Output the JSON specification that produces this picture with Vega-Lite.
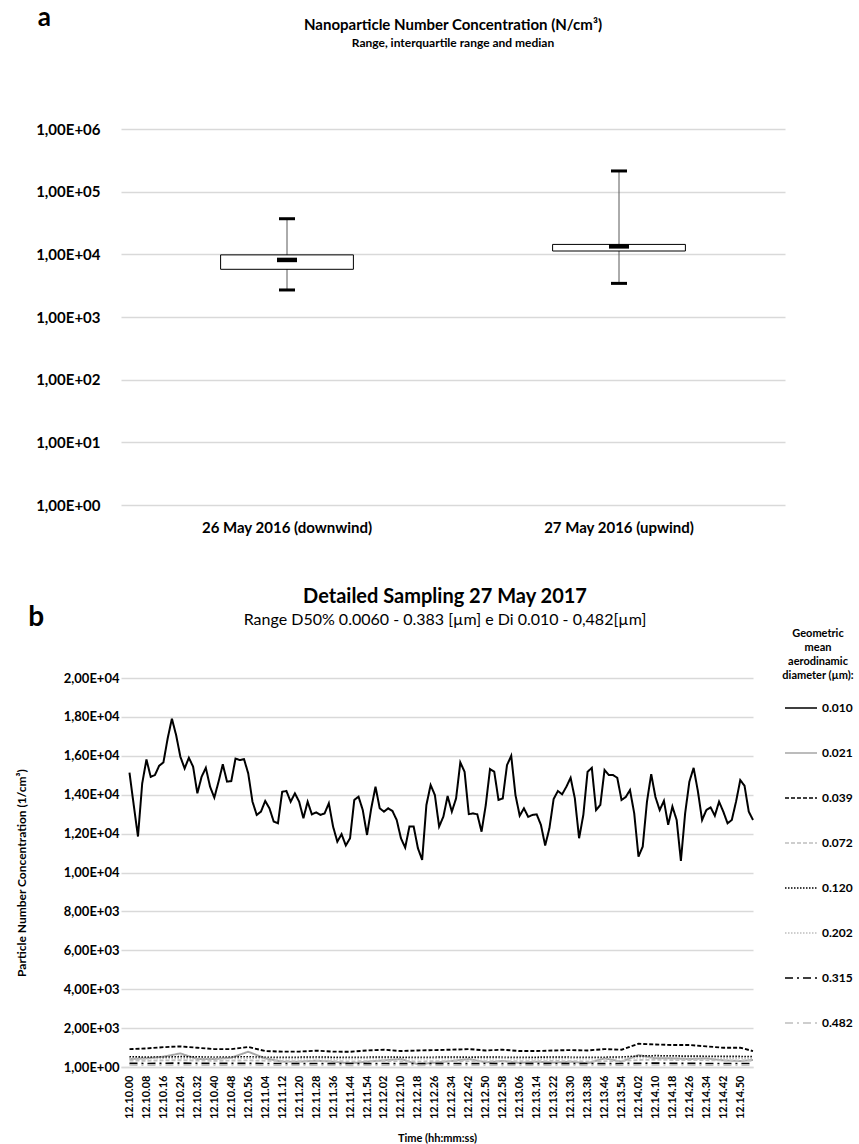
{
  "$schema": "https://vega.github.io/schema/vega-lite/v6.json",
  "padding": {"left": 15, "top": 5, "right": 5, "bottom": 2},
  "background": "white",
  "config": {
    "font": "Lato",
    "view": {"stroke": null},
    "axis": {"gridColor": "#d9d9d9", "gridWidth": 1.3, "domain": false, "ticks": false, "labelColor": "#000", "titleColor": "#000"},
    "title": {"color": "#000", "subtitleColor": "#000"}
  },
  "datasets": {
    "box": [
      {"date": "26 May 2016 (downwind)", "min": 2700, "q1": 5770, "median": 8140, "q3": 9800, "max": 37000},
      {"date": "27 May 2016 (upwind)", "min": 3440, "q1": 11300, "median": 13400, "q3": 14400, "max": 214000}
    ],
    "series": [
      {"t":"12.10.00","d010":15130,"d021":410,"d039":920,"d072":330,"d120":520,"d202":440,"d315":190,"d482":100},
      {"t":"12.10.02","d010":13470},{"t":"12.10.04","d010":11850},{"t":"12.10.06","d010":14580},
      {"t":"12.10.08","d010":15810,"d021":445,"d039":955,"d072":320,"d120":510,"d202":430,"d315":180,"d482":95},
      {"t":"12.10.10","d010":14920},{"t":"12.10.12","d010":15010},{"t":"12.10.14","d010":15490},
      {"t":"12.10.16","d010":15660,"d021":530,"d039":1020,"d072":340,"d120":500,"d202":450,"d315":190,"d482":100},
      {"t":"12.10.18","d010":16890},{"t":"12.10.20","d010":17910},{"t":"12.10.22","d010":17060},
      {"t":"12.10.24","d010":15950,"d021":700,"d039":1060,"d072":350,"d120":530,"d202":440,"d315":200,"d482":110},
      {"t":"12.10.26","d010":15350},{"t":"12.10.28","d010":15900},{"t":"12.10.30","d010":15440},
      {"t":"12.10.32","d010":14070,"d021":410,"d039":990,"d072":330,"d120":520,"d202":430,"d315":190,"d482":100},
      {"t":"12.10.34","d010":14920},{"t":"12.10.36","d010":15380},{"t":"12.10.38","d010":14410},
      {"t":"12.10.40","d010":13850,"d021":410,"d039":920,"d072":320,"d120":500,"d202":450,"d315":180,"d482":95},
      {"t":"12.10.42","d010":14670},{"t":"12.10.44","d010":15560},{"t":"12.10.46","d010":14670},
      {"t":"12.10.48","d010":14700,"d021":480,"d039":920,"d072":330,"d120":510,"d202":440,"d315":190,"d482":100},
      {"t":"12.10.50","d010":15860},{"t":"12.10.52","d010":15780},{"t":"12.10.54","d010":15830},
      {"t":"12.10.56","d010":15090,"d021":785,"d039":1030,"d072":340,"d120":520,"d202":460,"d315":190,"d482":105},
      {"t":"12.10.58","d010":13640},{"t":"12.11.00","d010":12960},{"t":"12.11.02","d010":13130},
      {"t":"12.11.04","d010":13680,"d021":445,"d039":820,"d072":320,"d120":500,"d202":440,"d315":180,"d482":95},
      {"t":"12.11.06","d010":13300},{"t":"12.11.08","d010":12620},{"t":"12.11.10","d010":12530},
      {"t":"12.11.12","d010":14150,"d021":275,"d039":790,"d072":310,"d120":490,"d202":430,"d315":180,"d482":90},
      {"t":"12.11.14","d010":14190},{"t":"12.11.16","d010":13640},{"t":"12.11.18","d010":14070},
      {"t":"12.11.20","d010":13640,"d021":275,"d039":790,"d072":300,"d120":500,"d202":430,"d315":170,"d482":90},
      {"t":"12.11.22","d010":12790},{"t":"12.11.24","d010":13640},{"t":"12.11.26","d010":12990},
      {"t":"12.11.28","d010":13090,"d021":325,"d039":840,"d072":310,"d120":510,"d202":440,"d315":180,"d482":95},
      {"t":"12.11.30","d010":12960},{"t":"12.11.32","d010":13040},{"t":"12.11.34","d010":13560},
      {"t":"12.11.36","d010":12360,"d021":275,"d039":790,"d072":300,"d120":500,"d202":420,"d315":170,"d482":90},
      {"t":"12.11.38","d010":11590},{"t":"12.11.40","d010":11970},{"t":"12.11.42","d010":11390},
      {"t":"12.11.44","d010":11760,"d021":190,"d039":785,"d072":290,"d120":490,"d202":430,"d315":180,"d482":85},
      {"t":"12.11.46","d010":13730},{"t":"12.11.48","d010":13900},{"t":"12.11.50","d010":13210},
      {"t":"12.11.54","d010":11930,"d021":275,"d039":850,"d072":300,"d120":500,"d202":440,"d315":170,"d482":90},
      {"t":"12.11.56","d010":13300},{"t":"12.11.58","d010":14410},{"t":"12.12.00","d010":13300},
      {"t":"12.12.02","d010":13130,"d021":340,"d039":890,"d072":310,"d120":510,"d202":430,"d315":180,"d482":95},
      {"t":"12.12.04","d010":13300},{"t":"12.12.06","d010":13160},{"t":"12.12.08","d010":12700},
      {"t":"12.12.10","d010":11760,"d021":410,"d039":820,"d072":300,"d120":500,"d202":420,"d315":170,"d482":90},
      {"t":"12.12.12","d010":11280},{"t":"12.12.14","d010":12360},{"t":"12.12.16","d010":12360},
      {"t":"12.12.18","d010":11250,"d021":140,"d039":850,"d072":290,"d120":490,"d202":430,"d315":180,"d482":85},
      {"t":"12.12.20","d010":10650},{"t":"12.12.22","d010":13470},{"t":"12.12.24","d010":14500},
      {"t":"12.12.26","d010":13980,"d021":225,"d039":870,"d072":300,"d120":500,"d202":440,"d315":170,"d482":90},
      {"t":"12.12.28","d010":12360},{"t":"12.12.30","d010":12870},{"t":"12.12.32","d010":13930},
      {"t":"12.12.34","d010":13130,"d021":310,"d039":890,"d072":310,"d120":510,"d202":430,"d315":180,"d482":95},
      {"t":"12.12.36","d010":13810},{"t":"12.12.38","d010":15660},{"t":"12.12.40","d010":15180},
      {"t":"12.12.42","d010":13000,"d021":410,"d039":920,"d072":300,"d120":500,"d202":420,"d315":170,"d482":90},
      {"t":"12.12.44","d010":13040},{"t":"12.12.46","d010":12990},{"t":"12.12.48","d010":12100},
      {"t":"12.12.50","d010":13470,"d021":240,"d039":850,"d072":300,"d120":510,"d202":430,"d315":180,"d482":90},
      {"t":"12.12.52","d010":15320},{"t":"12.12.54","d010":15180},{"t":"12.12.56","d010":13730},
      {"t":"12.12.58","d010":13810,"d021":310,"d039":890,"d072":290,"d120":500,"d202":440,"d315":170,"d482":85},
      {"t":"12.13.00","d010":15520},{"t":"12.13.02","d010":16000},{"t":"12.13.04","d010":13980},
      {"t":"12.13.06","d010":12920,"d021":210,"d039":820,"d072":300,"d120":490,"d202":430,"d315":180,"d482":90},
      {"t":"12.13.08","d010":13300},{"t":"12.13.10","d010":12860},{"t":"12.13.12","d010":12960},
      {"t":"12.13.14","d010":12990,"d021":275,"d039":820,"d072":300,"d120":500,"d202":420,"d315":170,"d482":90},
      {"t":"12.13.16","d010":12450},{"t":"12.13.18","d010":11390},{"t":"12.13.20","d010":12270},
      {"t":"12.13.22","d010":13780,"d021":225,"d039":850,"d072":310,"d120":510,"d202":430,"d315":180,"d482":95},
      {"t":"12.13.24","d010":14190},{"t":"12.13.26","d010":14020},{"t":"12.13.28","d010":14410},
      {"t":"12.13.30","d010":14870,"d021":275,"d039":870,"d072":300,"d120":500,"d202":440,"d315":170,"d482":90},
      {"t":"12.13.32","d010":13810},{"t":"12.13.34","d010":11760},{"t":"12.13.36","d010":12960},
      {"t":"12.13.38","d010":15180,"d021":190,"d039":850,"d072":290,"d120":490,"d202":430,"d315":180,"d482":85},
      {"t":"12.13.40","d010":15380},{"t":"12.13.42","d010":13210},{"t":"12.13.44","d010":13470},
      {"t":"12.13.46","d010":15270,"d021":445,"d039":920,"d072":300,"d120":500,"d202":430,"d315":170,"d482":90},
      {"t":"12.13.48","d010":15010},{"t":"12.13.50","d010":15010},{"t":"12.13.52","d010":14870},
      {"t":"12.13.54","d010":13730,"d021":275,"d039":890,"d072":310,"d120":510,"d202":440,"d315":180,"d482":95},
      {"t":"12.13.56","d010":13880},{"t":"12.13.58","d010":14240},{"t":"12.14.00","d010":13040},
      {"t":"12.14.02","d010":10820,"d021":615,"d039":1195,"d072":360,"d120":560,"d202":480,"d315":190,"d482":100},
      {"t":"12.14.04","d010":11330},{"t":"12.14.06","d010":13640},{"t":"12.14.08","d010":15060},
      {"t":"12.14.10","d010":13880,"d021":445,"d039":1160,"d072":370,"d120":580,"d202":490,"d315":200,"d482":105},
      {"t":"12.14.12","d010":13210},{"t":"12.14.14","d010":13680},{"t":"12.14.16","d010":12450},
      {"t":"12.14.18","d010":13390,"d021":445,"d039":1130,"d072":360,"d120":570,"d202":480,"d315":190,"d482":100},
      {"t":"12.14.20","d010":12700},{"t":"12.14.22","d010":10600},{"t":"12.14.24","d010":13040},
      {"t":"12.14.26","d010":14670,"d021":410,"d039":1130,"d072":350,"d120":560,"d202":470,"d315":190,"d482":100},
      {"t":"12.14.28","d010":15380},{"t":"12.14.30","d010":14190},{"t":"12.14.32","d010":12700},
      {"t":"12.14.34","d010":13210,"d021":445,"d039":1060,"d072":350,"d120":550,"d202":470,"d315":180,"d482":95},
      {"t":"12.14.36","d010":13350},{"t":"12.14.38","d010":12920},{"t":"12.14.40","d010":13640},
      {"t":"12.14.42","d010":13130,"d021":340,"d039":990,"d072":340,"d120":540,"d202":460,"d315":180,"d482":95},
      {"t":"12.14.44","d010":12530},{"t":"12.14.46","d010":12700},{"t":"12.14.48","d010":13640},
      {"t":"12.14.50","d010":14750,"d021":310,"d039":990,"d072":340,"d120":540,"d202":460,"d315":180,"d482":95},
      {"t":"12.14.52","d010":14460},{"t":"12.14.54","d010":13130},
      {"t":"12.14.56","d010":12700,"d021":360,"d039":820,"d072":330,"d120":530,"d202":450,"d315":180,"d482":90}
    ]
  },
  "columns": 1,
  "spacing": 52,
  "align": "none",
  "resolve": {"legend": {"color": "independent", "strokeDash": "independent"}},
  "concat": [
    {
      "title": {"text": "a", "anchor": "start", "frame": "bounds", "fontSize": 26, "fontWeight": "bold", "offset": -13, "dx": 2},
      "vconcat": [
        {
          "width": 664,
          "height": 376,
          "title": {
            "text": "Nanoparticle Number Concentration (N/cm³)",
            "subtitle": "Range, interquartile range and median",
            "anchor": "middle",
            "fontSize": 15,
            "fontWeight": "bold",
            "subtitleFontSize": 12,
            "subtitleFontWeight": "bold",
            "subtitlePadding": 5,
            "offset": 73
          },
          "data": {"name": "box"},
          "encoding": {
            "x": {
              "field": "date", "type": "nominal", "sort": null,
              "scale": {"paddingInner": 0, "paddingOuter": 0},
              "axis": {"title": null, "labelAngle": 0, "labelFontSize": 15, "labelFontWeight": "bold", "labelPadding": 15, "grid": false}
            }
          },
          "layer": [
            {
              "mark": {"type": "rule", "color": "#595959", "strokeWidth": 1},
              "encoding": {
                "y": {
                  "field": "min", "type": "quantitative",
                  "scale": {"type": "log", "domain": [1, 1000000], "nice": false},
                  "axis": {
                    "title": null,
                    "values": [1, 10, 100, 1000, 10000, 100000, 1000000],
                    "labelExpr": "'1,00E+0' + round(log(datum.value) / LN10)",
                    "labelFontSize": 15, "labelFontWeight": "bold", "labelPadding": 21, "grid": true
                  }
                },
                "y2": {"field": "max"}
              }
            },
            {
              "mark": {"type": "bar", "fill": "white", "stroke": "#000", "strokeWidth": 1, "width": {"band": 0.4}},
              "encoding": {"y": {"field": "q1", "type": "quantitative"}, "y2": {"field": "q3"}}
            },
            {
              "mark": {"type": "tick", "color": "#000", "size": 16, "thickness": 3, "opacity": 1},
              "encoding": {"y": {"field": "min", "type": "quantitative"}}
            },
            {
              "mark": {"type": "tick", "color": "#000", "size": 16, "thickness": 3, "opacity": 1},
              "encoding": {"y": {"field": "max", "type": "quantitative"}}
            },
            {
              "mark": {"type": "tick", "color": "#000", "size": 20, "thickness": 4.5, "opacity": 1},
              "encoding": {"y": {"field": "median", "type": "quantitative"}}
            }
          ]
        }
      ]
    },
    {
      "title": {"text": "b", "anchor": "start", "frame": "bounds", "fontSize": 28, "fontWeight": "bold", "offset": -45, "dx": 13},
      "resolve": {"legend": {"color": "independent", "strokeDash": "independent"}},
      "vconcat": [
        {
          "width": 632,
          "height": 389,
          "title": {
            "text": "Detailed Sampling 27 May 2017",
            "subtitle": "Range D50% 0.0060 - 0.383 [µm] e Di 0.010 - 0,482[µm]",
            "anchor": "middle",
            "fontSize": 20,
            "fontWeight": "bold",
            "subtitleFontSize": 16,
            "subtitleFontWeight": "normal",
            "subtitlePadding": 5,
            "offset": 0,
            "dx": 8
          },
          "data": {"name": "series"},
          "transform": [
            {"fold": ["d010", "d021", "d039", "d072", "d120", "d202", "d315", "d482"], "as": ["d", "v"]},
            {"filter": "isValid(datum.v)"}
          ],
          "mark": {"type": "line", "interpolate": "linear"},
          "encoding": {
            "x": {
              "field": "t", "type": "ordinal", "sort": null,
              "scale": {"type": "point", "padding": 1.909, "align": 1},
              "axis": {
                "title": "Time (hh:mm:ss)",
                "values": ["12.10.00","12.10.08","12.10.16","12.10.24","12.10.32","12.10.40","12.10.48","12.10.56","12.11.04","12.11.12","12.11.20","12.11.28","12.11.36","12.11.44","12.11.54","12.12.02","12.12.10","12.12.18","12.12.26","12.12.34","12.12.42","12.12.50","12.12.58","12.13.06","12.13.14","12.13.22","12.13.30","12.13.38","12.13.46","12.13.54","12.14.02","12.14.10","12.14.18","12.14.26","12.14.34","12.14.42","12.14.50"],
                "labelAngle": 270,
                "labelFontSize": 11, "labelFontWeight": "bold", "labelPadding": 8,
                "titleFontSize": 11, "titleFontWeight": "bold", "titlePadding": 14,
                "domain": true, "domainColor": "#d9d9d9", "domainWidth": 1.3, "grid": false
              }
            },
            "y": {
              "field": "v", "type": "quantitative",
              "scale": {"domain": [0, 20000], "nice": false},
              "axis": {
                "title": "Particle Number Concentration (1/cm³)",
                "values": [0, 2000, 4000, 6000, 8000, 10000, 12000, 14000, 16000, 18000, 20000],
                "labelExpr": "datum.value == 0 ? '1,00E+00' : replace(format(datum.value / pow(10, floor(log(datum.value) / LN10 + 1e-9)), '.2f'), '.', ',') + 'E+0' + floor(log(datum.value) / LN10 + 1e-9)",
                "labelFontSize": 13, "labelFontWeight": "bold", "labelPadding": 2,
                "titleFontSize": 12, "titleFontWeight": "bold", "titlePadding": 35
              }
            },
            "color": {
              "field": "d", "type": "nominal",
              "scale": {"domain": ["d010","d021","d039","d072","d120","d202","d315","d482"], "range": ["#000000","#a6a6a6","#000000","#bfbfbf","#000000","#bfbfbf","#000000","#bfbfbf"]},
              "legend": {
                "title": ["Geometric", "mean", "aerodinamic", "diameter (µm):"],
                "orient": "none", "legendX": 661, "legendY": -50,
                "symbolType": "stroke", "symbolSize": 1024, "symbolStrokeWidth": 1.6,
                "labelFontSize": 12, "labelFontWeight": "bold", "labelColor": "#000", "labelOffset": 4,
                "labelExpr": "'0.' + substring(datum.label, 1)",
                "titleFontSize": 11, "titleFontWeight": "bold", "titleColor": "#000", "titleAlign": "center", "titleAnchor": "middle", "titleLineHeight": 14, "titlePadding": 10,
                "rowPadding": 22
              }
            },
            "strokeDash": {
              "field": "d", "type": "nominal",
              "scale": {"domain": ["d010","d021","d039","d072","d120","d202","d315","d482"], "range": [[1,0],[1,0],[4,2],[4,2],[1.5,1.5],[1.5,1.5],[8,4,2,4],[8,4,2,4]]},
              "legend": {
                "title": ["Geometric", "mean", "aerodinamic", "diameter (µm):"],
                "orient": "none", "legendX": 661, "legendY": -50,
                "symbolType": "stroke", "symbolSize": 1024, "symbolStrokeWidth": 1.6,
                "labelFontSize": 12, "labelFontWeight": "bold", "labelColor": "#000", "labelOffset": 4,
                "labelExpr": "'0.' + substring(datum.label, 1)",
                "titleFontSize": 11, "titleFontWeight": "bold", "titleColor": "#000", "titleAlign": "center", "titleAnchor": "middle", "titleLineHeight": 14, "titlePadding": 10,
                "rowPadding": 22
              }
            },
            "strokeWidth": {
              "field": "d", "type": "nominal",
              "scale": {"domain": ["d010","d021","d039","d072","d120","d202","d315","d482"], "range": [2, 1.6, 1.5, 1.5, 1.5, 1.5, 1.8, 1.8]},
              "legend": null
            }
          }
        }
      ]
    }
  ]
}
